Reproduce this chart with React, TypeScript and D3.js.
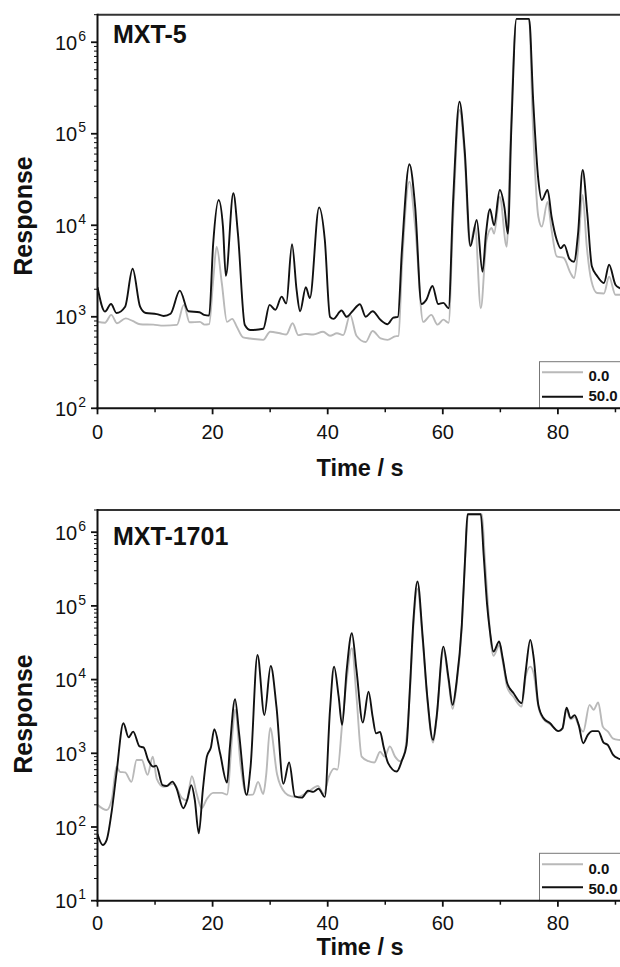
import React from 'react';
import * as d3 from 'd3';

// ---------- DATA ----------
// MXT-5 panel, 0.0 (grey)
const mxt5Time0 = [0, 1.3, 2.4, 3.4, 4.9, 6.1, 7.4, 9.7, 11.5, 13.8, 15.0, 16.0, 17.8, 18.6, 19.4, 20.1, 20.7, 21.6, 22.5, 23.4, 24.2, 25.3, 26.5, 28.8, 30.0, 31.7, 32.8, 33.9, 34.9, 36.1, 37.5, 39.2, 40.4, 41.6, 42.7, 43.9, 45.0, 46.6, 47.8, 49.2, 50.4, 51.7, 52.3, 52.9, 54.2, 55.2, 56.6, 58.0, 59.1, 60.1, 61.0, 61.8, 62.9, 63.8, 64.7, 65.6, 66.6, 67.6, 68.5, 68.9, 69.9, 71.1, 71.7, 72.8, 75.0, 75.6, 76.6, 77.2, 78.2, 78.9, 79.8, 81.0, 82.2, 82.8, 83.5, 84.3, 85.0, 85.8, 86.8, 88.0, 88.9, 90.0, 90.8, 92];
const mxt5Resp0 = [883, 860, 1050, 850, 960, 900, 830, 820, 800, 815, 1350, 870, 880, 820, 830, 2500, 5830, 2340, 880, 950, 780, 597, 580, 560, 687, 660, 640, 850, 630, 650, 640, 687, 620, 660, 630, 1050, 620, 530, 700, 580, 560, 610, 620, 3560, 30000, 9660, 880, 1050, 820, 930, 860, 12400, 182000, 56000, 6000, 9660, 1240, 6900, 9330, 8100, 20400, 5830, 66600, 1800000, 1800000, 154000, 12400, 9660, 18000, 8900, 4570, 4400, 3000, 2650, 5370, 21500, 6000, 2500, 1820, 1800, 2750, 1740, 1740, 1700];
// MXT-5 panel, 50.0 (black)
const mxt5Time50 = [0, 1.3, 2.35, 3.3, 4.8, 6.1, 7.4, 8.4, 10.3, 11.5, 12.7, 14.3, 15.8, 17.7, 18.5, 19.4, 20.1, 21.05, 21.8, 22.3, 23.6, 24.4, 25.6, 26.6, 28.8, 29.9, 30.9, 32.0, 32.8, 33.8, 34.6, 35.2, 36.2, 36.9, 38.5, 39.5, 40.4, 41.0, 42.4, 43.3, 44.3, 45.6, 46.6, 47.8, 49.2, 50.4, 51.4, 52.2, 52.9, 54.2, 55.2, 56.3, 57.1, 58.2, 59.2, 60.1, 61.0, 61.8, 62.9, 63.8, 64.8, 65.9, 66.9, 67.5, 68.2, 68.9, 69.9, 70.7, 71.3, 71.9, 72.8, 75.0, 75.7, 76.6, 77.2, 78.2, 78.9, 79.8, 80.5, 81.1, 82.0, 82.8, 83.5, 84.3, 85.1, 85.9, 86.8, 88.0, 88.9, 90.0, 90.8, 92];
const mxt5Resp50 = [2100, 1140, 1380, 1100, 1290, 3350, 1290, 1100, 1070, 1020, 1080, 1930, 1150, 1120, 1050, 1030, 6300, 18900, 9660, 2800, 22400, 8100, 813, 716, 740, 1350, 1190, 1660, 1400, 6200, 1950, 1150, 2100, 1600, 15700, 6900, 1000, 950, 1170, 1000, 1150, 1370, 1000, 1150, 920, 830, 980, 1000, 5370, 46400, 15800, 1380, 1520, 2170, 1380, 1420, 1240, 18900, 224000, 66600, 5940, 11400, 3110, 8100, 15000, 10000, 24300, 15800, 8100, 110000, 1800000, 1800000, 234000, 31300, 18900, 24300, 12400, 6900, 5600, 6100, 4300, 4000, 8100, 40200, 13500, 3560, 2800, 2340, 3700, 2240, 2050, 1900];

// MXT-1701 panel, 0.0 (grey)
const mxt1701Time0 = [0, 1.6, 2.5, 3.3, 3.9, 4.8, 5.9, 6.8, 7.7, 8.7, 9.6, 10.3, 11.5, 13.2, 14.7, 15.5, 16.4, 17.2, 18.1, 19.0, 20.1, 21.6, 22.5, 23.4, 23.9, 24.9, 25.9, 27.0, 27.9, 28.8, 29.3, 30.0, 31.2, 32.6, 33.7, 34.8, 36.6, 38.3, 39.3, 40.2, 41.1, 41.7, 42.5, 43.3, 44.2, 45.0, 45.9, 47.1, 48.1, 49.1, 49.9, 50.8, 51.7, 52.6, 53.4, 54.3, 54.9, 55.6, 56.5, 57.3, 58.3, 58.9, 60.1, 61.0, 61.7, 62.4, 63.3, 63.9, 64.4, 66.8, 67.3, 67.9, 68.4, 68.8, 69.8, 70.4, 71.2, 72.3, 73.7, 74.4, 75.2, 75.8, 76.6, 77.5, 78.6, 80.1, 80.8, 81.5, 82.2, 82.9, 83.6, 84.4, 85.5, 86.2, 87.0, 87.8, 88.7, 89.6, 90.5, 92];
const mxt1701Resp0 = [200, 170, 240, 660, 560, 550, 410, 810, 810, 510, 900, 450, 350, 390, 245, 230, 490, 290, 180, 240, 290, 290, 275, 1700, 3900, 660, 273, 275, 410, 280, 500, 2200, 520, 290, 260, 256, 300, 360, 280, 480, 620, 600, 2430, 10000, 26700, 5900, 900, 780, 750, 1050, 900, 1240, 900, 780, 1050, 7000, 55000, 170000, 34000, 5500, 1400, 2800, 25000, 9500, 4000, 8500, 50000, 450000, 1750000, 1750000, 450000, 90000, 30000, 21000, 29000, 18000, 7800, 5800, 4300, 11000, 15000, 12000, 4300, 2900, 2500, 2000, 2150, 3900, 2900, 3100, 2400, 1970, 4540, 3900, 4900, 2300, 1970, 1580, 1520, 1500];
// MXT-1701 panel, 50.0 (black)
const mxt1701Time50 = [0, 0.9, 1.6, 2.5, 3.3, 4.5, 5.4, 6.2, 7.3, 8.0, 8.8, 9.7, 10.2, 11.3, 12.0, 13.0, 13.7, 14.9, 15.6, 16.3, 16.9, 17.6, 18.3, 19.0, 19.7, 20.3, 21.3, 22.5, 23.0, 23.9, 24.6, 25.9, 26.6, 27.8, 29.0, 30.1, 31.1, 32.3, 33.3, 34.3, 35.5, 36.6, 37.5, 38.4, 39.5, 40.4, 41.1, 41.9, 42.5, 43.3, 44.2, 45.0, 46.1, 47.1, 47.8, 48.4, 49.1, 49.7, 50.5, 52.0, 52.9, 53.7, 54.3, 54.9, 55.6, 56.5, 57.3, 58.3, 58.9, 60.1, 61.0, 61.7, 62.4, 63.3, 63.9, 64.3, 66.6, 67.1, 67.7, 68.2, 68.8, 69.8, 70.4, 71.2, 72.3, 73.7, 74.4, 75.2, 75.8, 76.6, 77.5, 78.6, 80.1, 80.8, 81.5, 82.2, 82.9, 83.6, 84.4, 85.2, 86.0, 87.0, 87.9, 88.7, 89.6, 90.5, 92];
const mxt1701Resp50 = [80, 57, 67, 170, 537, 2560, 1650, 1970, 1240, 1200, 810, 660, 680, 370, 360, 413, 340, 180, 235, 370, 235, 82, 317, 900, 1200, 2120, 1000, 400, 1200, 5420, 1870, 273, 660, 21600, 3300, 15300, 4270, 385, 750, 260, 250, 310, 300, 330, 256, 3870, 15000, 5900, 2430, 13500, 42600, 13500, 2610, 6870, 3170, 1870, 1950, 1240, 735, 565, 800, 1290, 8030, 64600, 214000, 38300, 5900, 1520, 3000, 28000, 10400, 4540, 9400, 55000, 490000, 1750000, 1750000, 490000, 103000, 44700, 24000, 32800, 19600, 8900, 6540, 4800, 12900, 34600, 19600, 4540, 3000, 2570, 2000, 2190, 4170, 3000, 3300, 2450, 1370, 1780, 2000, 2000, 1410, 1290, 950, 850, 800];

const panelTitles = ['MXT-5', 'MXT-1701'];
const seriesLabels = ['0.0', '50.0'];
const xTickValues = [0, 20, 40, 60, 80];
const xMinorTickValues = [10, 30, 50, 70, 90];
const xLabel = 'Time / s';
const yLabel = 'Response';

// ---------- LAYOUT ----------
const W = 620;
const H = 967;
const FONT = "'Liberation Sans', Arial, Helvetica, sans-serif";
const plotLeft = 97.5;
const plotRightFull = 673; // x domain 0..100 (figure is cropped at 620)
const GREY = '#b9b9b9';
const BLACK = '#111111';

type Panel = {
  title: string;
  top: number;
  bottom: number;
  yDomain: [number, number];
  minExp: number;
  maxExp: number;
  series: { t: number[]; v: number[]; color: string }[];
  legendTop: number;
  legendY: [number, number];
  legendTextY: [number, number];
  titleY: number;
  tickLabelY: number;
  xLabelY: number;
  yLabelY: number;
};

const panels: Panel[] = [
  {
    title: panelTitles[0],
    top: 14.7,
    bottom: 408.3,
    yDomain: [100, 2e6],
    minExp: 2,
    maxExp: 6,
    series: [
      { t: mxt5Time0, v: mxt5Resp0, color: GREY },
      { t: mxt5Time50, v: mxt5Resp50, color: BLACK },
    ],
    legendTop: 361.7,
    legendY: [372.3, 396.7],
    legendTextY: [381, 400.5],
    titleY: 43.3,
    tickLabelY: 438.5,
    xLabelY: 475.5,
    yLabelY: 216,
  },
  {
    title: panelTitles[1],
    top: 510,
    bottom: 900.7,
    yDomain: [10, 2e6],
    minExp: 1,
    maxExp: 6,
    series: [
      { t: mxt1701Time0, v: mxt1701Resp0, color: GREY },
      { t: mxt1701Time50, v: mxt1701Resp50, color: BLACK },
    ],
    legendTop: 853.3,
    legendY: [864.3, 887.3],
    legendTextY: [873.5, 893.5],
    titleY: 545,
    tickLabelY: 930,
    xLabelY: 955,
    yLabelY: 714,
  },
];

function PanelView({ p, idx }: { p: Panel; idx: number }) {
  const x = d3.scaleLinear().domain([0, 100]).range([plotLeft, plotRightFull]);
  const y = d3.scaleLog().domain(p.yDomain).range([p.bottom, p.top]);
  const clipId = `clip-${idx}`;

  const majors: number[] = [];
  const minors: number[] = [];
  for (let e = p.minExp; e <= p.maxExp; e++) {
    majors.push(Math.pow(10, e));
    for (let m = 2; m <= 9; m++) {
      const v = m * Math.pow(10, e);
      if (v <= p.yDomain[1]) minors.push(v);
    }
  }

  return (
    <g>
      <defs>
        <clipPath id={clipId}>
          <rect x={plotLeft} y={p.top} width={W - plotLeft} height={p.bottom - p.top} />
        </clipPath>
      </defs>

      {/* series */}
      <g clipPath={`url(#${clipId})`}>
        {p.series.map((s, i) => {
          const pts: [number, number][] = s.t.map((t, k) => [t, s.v[k]]);
          const line = d3
            .line<[number, number]>()
            .x((d) => x(d[0]))
            .y((d) => y(d[1]))
            .curve(d3.curveMonotoneX);
          return (
            <path key={i} d={line(pts) || ''} fill="none" stroke={s.color} strokeWidth={1.9} strokeLinejoin="round" />
          );
        })}
      </g>

      {/* legend */}
      <g>
        <rect x={539.5} y={p.legendTop} width={120} height={p.bottom - p.legendTop} fill="white" stroke="#777" strokeWidth={1} />
        {p.series.map((s, i) => (
          <g key={i}>
            <line x1={542} x2={583} y1={p.legendY[i]} y2={p.legendY[i]} stroke={s.color} strokeWidth={1.9} />
            <text x={588.5} y={p.legendTextY[i]} fontFamily={FONT} fontWeight="bold" fontSize={15} fill="#111">
              {seriesLabels[i]}
            </text>
          </g>
        ))}
      </g>

      {/* top border */}
      <line x1={plotLeft} x2={W} y1={p.top} y2={p.top} stroke="#333" strokeWidth={2} />

      {/* y axis */}
      <line x1={plotLeft} x2={plotLeft} y1={p.bottom + 1} y2={p.top - 1} stroke="#111" strokeWidth={2} />
      {minors.map((v, i) => (
        <line key={`mi${i}`} x1={plotLeft - 3.5} x2={plotLeft} y1={y(v)} y2={y(v)} stroke="#111" strokeWidth={1} />
      ))}
      {majors.map((v, i) => {
        const e = Math.round(Math.log10(v));
        return (
          <g key={`ma${i}`}>
            <line x1={plotLeft - 6.5} x2={plotLeft} y1={y(v)} y2={y(v)} stroke="#111" strokeWidth={1.8} />
            <text x={86} y={y(v) + 7.7} textAnchor="end" fontFamily={FONT} fontSize={20} fill="#111">
              10
              <tspan dy={-9} dx={1} fontSize={14}>
                {e}
              </tspan>
            </text>
          </g>
        );
      })}

      {/* x axis */}
      <line x1={plotLeft - 1} x2={W} y1={p.bottom} y2={p.bottom} stroke="#111" strokeWidth={2} />
      {xMinorTickValues.map((v, i) => (
        <line key={`xm${i}`} x1={x(v)} x2={x(v)} y1={p.bottom} y2={p.bottom + 4} stroke="#111" strokeWidth={1.5} />
      ))}
      {xTickValues.map((v, i) => (
        <g key={`xt${i}`}>
          <line x1={x(v)} x2={x(v)} y1={p.bottom} y2={p.bottom + 6} stroke="#111" strokeWidth={1.8} />
          <text x={x(v)} y={p.tickLabelY} textAnchor="middle" fontFamily={FONT} fontSize={20} fill="#111">
            {v}
          </text>
        </g>
      ))}

      {/* labels */}
      <text x={113} y={p.titleY} fontFamily={FONT} fontWeight="bold" fontSize={25} fill="#111">
        {p.title}
      </text>
      <text x={360} y={p.xLabelY} textAnchor="middle" fontFamily={FONT} fontWeight="bold" fontSize={23.5} fill="#111">
        {xLabel}
      </text>
      <text
        transform={`translate(32, ${p.yLabelY}) rotate(-90)`}
        textAnchor="middle"
        fontFamily={FONT}
        fontWeight="bold"
        fontSize={25}
        fill="#111"
      >
        {yLabel}
      </text>
    </g>
  );
}

export default function App() {
  return (
    <svg
      width={W}
      height={H}
      viewBox={`0 0 ${W} ${H}`}
      style={{ position: 'absolute', left: 0, top: 0, background: 'white', overflow: 'hidden' }}
    >
      <rect x={0} y={0} width={W} height={H} fill="white" />
      {panels.map((p, i) => (
        <PanelView key={i} p={p} idx={i} />
      ))}
    </svg>
  );
}
